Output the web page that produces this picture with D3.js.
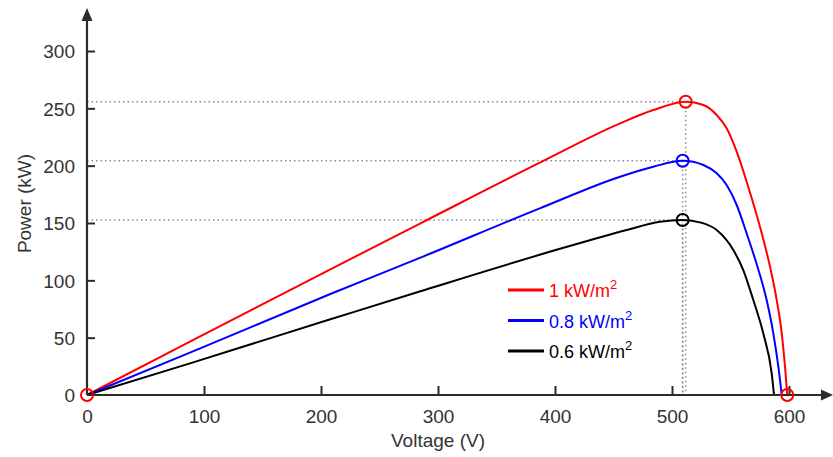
<!DOCTYPE html>
<html>
<head>
<meta charset="utf-8">
<script src="https://cdn.jsdelivr.net/npm/d3@7"></script>
<style>
  html, body { margin: 0; padding: 0; background: #fff; }
  svg { display: block; font-family: "Liberation Sans", Arial, sans-serif; }
</style>
</head>
<body>
<svg id="chart" width="833" height="457"></svg>
<script>
// P-V characteristics of the PV array at three irradiance levels
const seriesNames = ["1 kW/m", "0.8 kW/m", "0.6 kW/m"];
const seriesColors = ["#ff0000", "#0000ff", "#000000"];

const voltRed   = [0, 88, 208, 285, 387, 455.6, 484, 511.7, 526.8, 538.2, 546.7, 555.3, 563.8, 576.7, 583.8, 589.5, 593.8, 596.6, 598.5];
const powerRed  = [0, 46.5, 109.6, 149.7, 202.6, 236.9, 248.5, 255.8, 252.9, 244.2, 232.6, 212.2, 186.0, 141.0, 111.9, 82.8, 53.8, 24.7, 0];

const voltBlue  = [0, 88, 208, 285, 387, 455.6, 484, 509.1, 526.8, 538.2, 546.7, 555.3, 563.8, 572.4, 580.9, 586.6, 590.9, 593.8];
const powerBlue = [0, 36.9, 88.1, 119.8, 162.8, 190.4, 199.1, 204.3, 200.6, 193.3, 183.1, 165.7, 141.0, 114.0, 82.8, 53.8, 24.7, 0];

const voltBlack  = [0, 88, 208, 285, 404.3, 432.7, 461.3, 489.7, 509.1, 524.8, 538.2, 552.4, 560.9, 569.5, 578.0, 585.2, 587.2];
const powerBlack = [0, 27.6, 66.0, 90.5, 127.5, 135.8, 143.9, 151.1, 152.6, 150.3, 143.9, 126.5, 109.0, 82.8, 53.8, 18.9, 0];

// maximum power points
const mppVolt  = [511.7, 509.1, 509.1];
const mppPower = [255.8, 204.3, 152.6];

// short-circuit / open-circuit markers of the 1 kW/m2 curve
const endVolt  = [0, 598.5];
const endPower = [0, 0];

const xTicks = [0, 100, 200, 300, 400, 500, 600];
const yTicks = [0, 50, 100, 150, 200, 250, 300];

const svg = d3.select("#chart");
const x = d3.scaleLinear().domain([0, 600]).range([87, 789]);
const y = d3.scaleLinear().domain([0, 300]).range([395, 51]);

const axisColor = "#2b2b2b";
const font = 19;

// dotted guide lines to the maximum power points
const guides = svg.append("g").attr("stroke", "#8c8c8c").attr("stroke-width", 1.5)
  .attr("stroke-dasharray", "1.5,3").attr("fill", "none");
mppVolt.forEach((v, i) => {
  guides.append("line").attr("x1", x(0)).attr("x2", x(v))
    .attr("y1", y(mppPower[i])).attr("y2", y(mppPower[i]));
  guides.append("line").attr("x1", x(v)).attr("x2", x(v))
    .attr("y1", y(mppPower[i])).attr("y2", y(0));
});

// curves
const series = [
  { v: voltRed, p: powerRed },
  { v: voltBlue, p: powerBlue },
  { v: voltBlack, p: powerBlack }
];
const line = d3.line().x(d => x(d[0])).y(d => y(d[1])).curve(d3.curveMonotoneX);
series.forEach((s, i) => {
  svg.append("path")
    .datum(s.v.map((v, k) => [v, s.p[k]]))
    .attr("d", line)
    .attr("fill", "none")
    .attr("stroke", seriesColors[i])
    .attr("stroke-width", 2);
});

// axes (ticks point inward)
const xAxis = d3.axisBottom(x).tickValues(xTicks).tickSize(-9).tickPadding(14);
const yAxis = d3.axisLeft(y).tickValues(yTicks).tickSize(-8).tickPadding(12);

const gx = svg.append("g").attr("transform", `translate(0,${y(0)})`).call(xAxis);
const gy = svg.append("g").attr("transform", `translate(${x(0)},0)`).call(yAxis);
[gx, gy].forEach(g => {
  g.select(".domain").remove();
  g.selectAll(".tick line").attr("stroke", axisColor).attr("stroke-width", 2);
  g.selectAll(".tick text").attr("fill", "#333").attr("font-size", font)
    .attr("font-family", "Liberation Sans, Arial, sans-serif");
});
gy.selectAll(".tick text").attr("dy", "0.36em");
gx.selectAll(".tick text").attr("dy", "0.72em");
gx.selectAll(".tick").filter(d => d === 0).select("line").remove();
gy.selectAll(".tick").filter(d => d === 0).select("line").remove();

// axis lines with arrowheads
svg.append("line").attr("x1", x(0)).attr("x2", 826).attr("y1", y(0)).attr("y2", y(0))
  .attr("stroke", axisColor).attr("stroke-width", 2.2);
svg.append("path").attr("d", `M833,${y(0)} L821,${y(0) - 5.5} L821,${y(0) + 5.5} Z`).attr("fill", axisColor);
svg.append("line").attr("x1", x(0)).attr("x2", x(0)).attr("y1", y(0)).attr("y2", 18)
  .attr("stroke", axisColor).attr("stroke-width", 2.2);
svg.append("path").attr("d", `M${x(0)},8 L${x(0) - 5.5},21 L${x(0) + 5.5},21 Z`).attr("fill", axisColor);

// axis titles
svg.append("text").attr("x", x(300)).attr("y", 447).attr("text-anchor", "middle")
  .attr("font-size", font).attr("fill", "#333").text("Voltage (V)");
svg.append("text").attr("transform", `translate(31,${y(167)}) rotate(-90)`)
  .attr("text-anchor", "middle").attr("font-size", font).attr("fill", "#333").text("Power (kW)");

// markers
mppVolt.forEach((v, i) => {
  svg.append("circle").attr("cx", x(v)).attr("cy", y(mppPower[i])).attr("r", 6)
    .attr("fill", "none").attr("stroke", seriesColors[i]).attr("stroke-width", 2);
});
endVolt.forEach((v, i) => {
  svg.append("circle").attr("cx", x(v)).attr("cy", y(endPower[i])).attr("r", 6)
    .attr("fill", "none").attr("stroke", seriesColors[0]).attr("stroke-width", 2);
});

// legend
const legend = svg.append("g").attr("transform", "translate(508,290)");
seriesNames.forEach((name, i) => {
  const g = legend.append("g").attr("transform", `translate(0,${i * 30.5})`);
  g.append("line").attr("x1", 0).attr("x2", 36).attr("y1", 0).attr("y2", 0)
    .attr("stroke", seriesColors[i]).attr("stroke-width", 3);
  const t = g.append("text").attr("x", 41).attr("y", 7).attr("font-size", 18)
    .attr("fill", seriesColors[i]);
  t.append("tspan").text(name);
  t.append("tspan").attr("dy", -8).attr("font-size", 13).text("2");
});
</script>
</body>
</html>
